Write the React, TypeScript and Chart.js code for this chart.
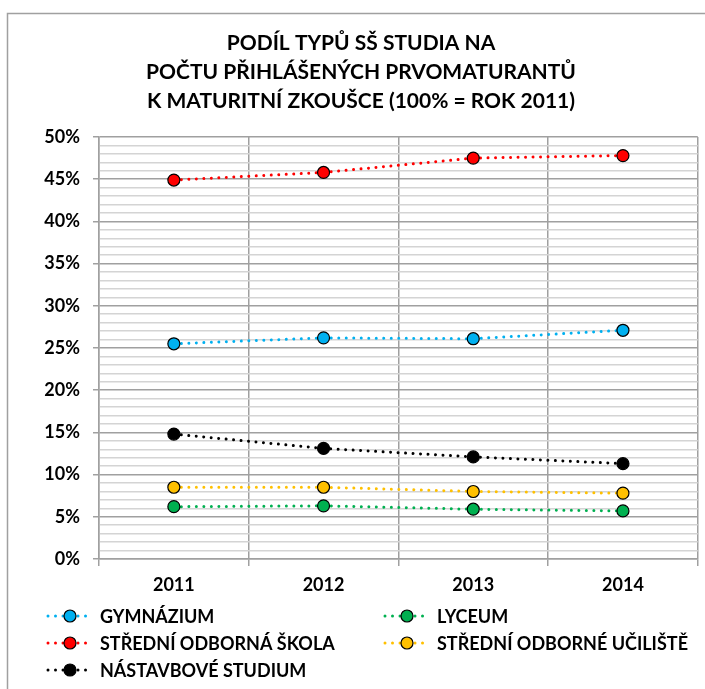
import React, { useEffect, useRef } from "react";
import { Chart, registerables } from "chart.js";

Chart.register(...registerables);

const categories = ["2011", "2012", "2013", "2014"];
const titleLines = [
  "PODÍL TYPŮ SŠ STUDIA NA",
  "POČTU PŘIHLÁŠENÝCH PRVOMATURANTŮ",
  "K MATURITNÍ ZKOUŠCE (100% = ROK 2011)",
];
const seriesNames = [
  "GYMNÁZIUM",
  "LYCEUM",
  "STŘEDNÍ ODBORNÁ ŠKOLA",
  "STŘEDNÍ ODBORNÉ UČILIŠTĚ",
  "NÁSTAVBOVÉ STUDIUM",
];
const gymnazium = [25.5, 26.2, 26.1, 27.1];
const lyceum = [6.2, 6.3, 5.9, 5.7];
const stredniOdbornaSkola = [44.9, 45.8, 47.5, 47.8];
const stredniOdborneUciliste = [8.5, 8.5, 8.0, 7.8];
const nastavboveStudium = [14.8, 13.1, 12.1, 11.3];
const seriesColors = ["#00B0F0", "#00B050", "#FF0000", "#FFC000", "#000000"];
const yMin = 0;
const yMax = 50;
const yMinorStep = 1;
const yMajorStep = 5;

const FONT = "Lato, 'Open Sans', sans-serif";
const MAJOR = "#a0a0a0";
const MINOR = "#d4d4d4";

const decorPlugin = {
  id: "decor",
  beforeDraw(chart: any) {
    const ctx = chart.ctx;
    ctx.save();
    ctx.fillStyle = "#ffffff";
    ctx.fillRect(0, 0, chart.width, chart.height);
    ctx.strokeStyle = "#a0a0a0";
    ctx.lineWidth = 1.5;
    ctx.strokeRect(7.5, 13.5, 900, 900);
    ctx.restore();
  },
  afterDraw(chart: any) {
    const ctx = chart.ctx;
    ctx.save();
    // title
    ctx.fillStyle = "#000";
    ctx.textAlign = "center";
    ctx.textBaseline = "middle";
    ctx.font = `bold 21px ${FONT}`;
    const ty = [43, 72, 101];
    titleLines.forEach((t, i) => ctx.fillText(t, 361, ty[i]));
    // legend
    const layout = [
      [0, 48, 616],
      [1, 385, 616],
      [2, 48, 643],
      [3, 385, 643],
      [4, 48, 670],
    ];
    ctx.textAlign = "left";
    ctx.font = `bold 18px ${FONT}`;
    layout.forEach(([idx, x0, y]) => {
      const ds = chart.data.datasets[idx];
      ctx.save();
      ctx.strokeStyle = ds.borderColor;
      ctx.lineWidth = 3;
      ctx.lineCap = "round";
      ctx.setLineDash([0.001, 7.5]);
      ctx.beginPath();
      ctx.moveTo(x0, y);
      ctx.lineTo(x0 + 44, y);
      ctx.stroke();
      ctx.setLineDash([]);
      ctx.beginPath();
      ctx.arc(x0 + 22, y, 6, 0, Math.PI * 2);
      ctx.fillStyle = ds.pointBackgroundColor;
      ctx.fill();
      ctx.lineWidth = 1.2;
      ctx.strokeStyle = "#000";
      ctx.stroke();
      ctx.restore();
      ctx.fillStyle = "#000";
      ctx.fillText(ds.label, x0 + 52, y + 1);
    });
    ctx.restore();
  },
};

export default function App() {
  const ref = useRef<HTMLCanvasElement>(null);
  useEffect(() => {
    if (!ref.current) return;
    const data = [gymnazium, lyceum, stredniOdbornaSkola, stredniOdborneUciliste, nastavboveStudium];
    const chart = new Chart(ref.current, {
      type: "line",
      data: {
        labels: categories,
        datasets: data.map((d, i) => ({
          label: seriesNames[i],
          data: d,
          borderColor: seriesColors[i],
          backgroundColor: seriesColors[i],
          borderWidth: 3,
          borderDash: [0.001, 7.5],
          borderCapStyle: "round",
          pointRadius: 6,
          pointHoverRadius: 6,
          pointBackgroundColor: seriesColors[i],
          pointBorderColor: "#000",
          pointBorderWidth: 1.2,
          tension: 0,
        })),
      },
      options: {
        responsive: false,
        animation: false,
        layout: { padding: { top: 137, right: 5, bottom: 0, left: 0 } },
        plugins: {
          legend: { display: false },
          title: { display: false },
          tooltip: { enabled: false },
        },
        scales: {
          x: {
            type: "category",
            offset: true,
            grid: { offset: true, color: MAJOR, lineWidth: 1.5, tickLength: 7, tickColor: MAJOR },
            border: { color: MAJOR, width: 1.5 },
            ticks: { color: "#000", font: { family: FONT, size: 18, weight: "bold" }, padding: 8, maxRotation: 0 },
            afterFit: (s: any) => { s.height = 130; },
          },
          y: {
            min: yMin,
            max: yMax,
            grid: {
              color: (c: any) => (c.tick && c.tick.value % yMajorStep === 0 ? MAJOR : MINOR),
              tickColor: (c: any) => (c.tick && c.tick.value % yMajorStep === 0 ? MAJOR : "rgba(0,0,0,0)"),
              lineWidth: 1.5,
              tickLength: 6,
            },
            border: { color: MAJOR, width: 1.5 },
            ticks: {
              stepSize: yMinorStep,
              autoSkip: false,
              color: "#000",
              font: { family: FONT, size: 18, weight: "bold" },
              padding: 13,
              callback: (v: any) => (v % yMajorStep === 0 ? v + "%" : ""),
            },
            afterFit: (s: any) => { s.width = 99; },
          },
        },
      },
      plugins: [decorPlugin],
    });
    return () => chart.destroy();
  }, []);
  return (
    <div style={{ position: "absolute", left: 0, top: 0, width: 705, height: 689 }}>
      <canvas ref={ref} width={705} height={689} />
    </div>
  );
}
